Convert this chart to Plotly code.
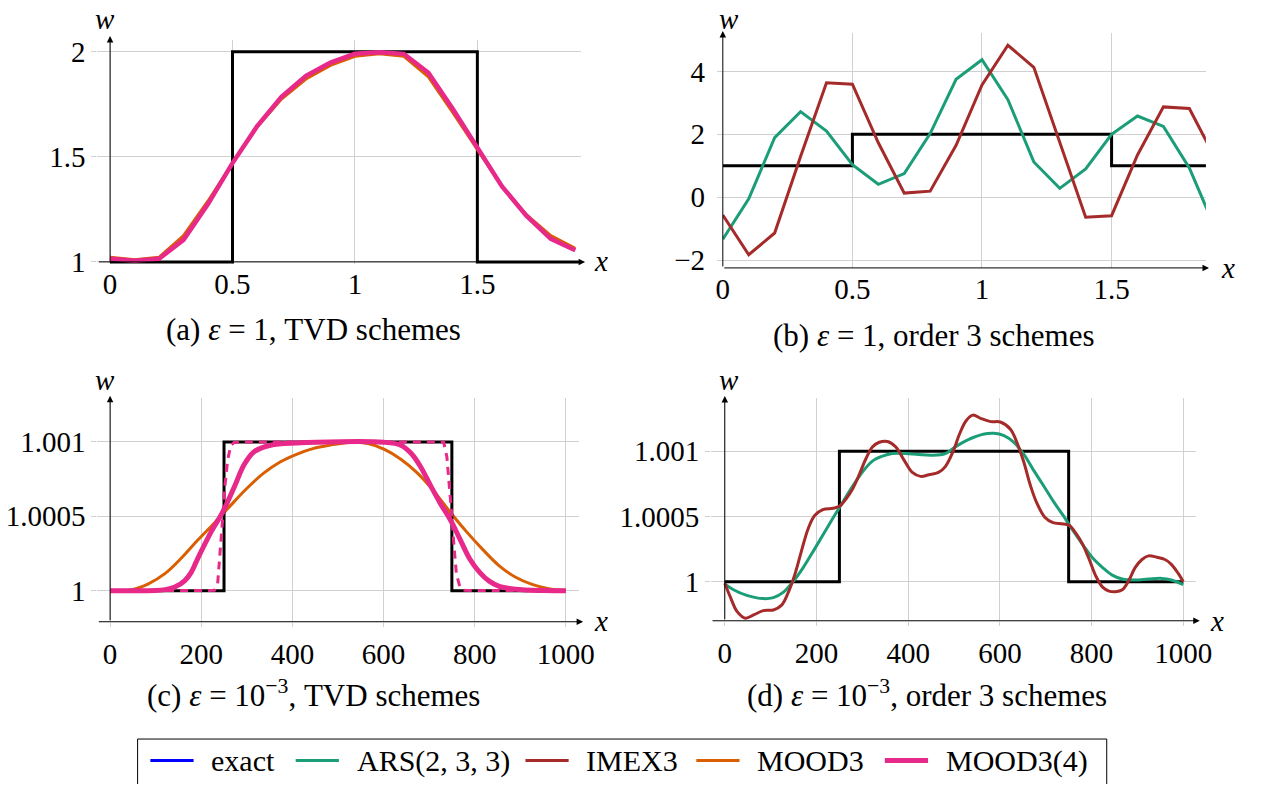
import plotly.graph_objects as go

W, H = 1272, 798
FONT = "Liberation Serif"
FS = 29
CAP_FS = 31

BLACK = "#000000"
BLUE = "#0000ff"
GREEN = "#1b9e77"
RED = "#a52a2a"
ORANGE = "#d95f02"
PINK = "#e7298a"
GRID = "#d0d0d0"

# ---------------- (a) eps = 1, TVD schemes ----------------
a_x = [0.0, 0.1, 0.2, 0.3, 0.4, 0.5, 0.6, 0.7, 0.8, 0.9,
       1.0, 1.1, 1.2, 1.3, 1.4, 1.5, 1.6, 1.7, 1.8, 1.9]
a_mood3 = [1.022, 1.010, 1.022, 1.125, 1.290, 1.470, 1.640, 1.775, 1.870, 1.935,
           1.978, 1.990, 1.978, 1.880, 1.710, 1.535, 1.360, 1.225, 1.125, 1.065]
a_mood34 = [1.015, 1.005, 1.015, 1.105, 1.275, 1.470, 1.645, 1.785, 1.885, 1.948,
            1.990, 1.998, 1.990, 1.900, 1.727, 1.540, 1.360, 1.220, 1.110, 1.055]
a_exact_x = [0.0, 0.5, 1.5, 1.925]
a_exact_y = [1, 2, 1, 1]

# ---------------- (b) eps = 1, order 3 schemes ----------------
b_x = a_x
b_ars = [-1.34, -0.05, 1.89, 2.72, 2.10, 1.03, 0.41, 0.75, 2.02, 3.75,
         4.37, 3.10, 1.12, 0.28, 0.90, 2.00, 2.58, 2.25, 0.93, -1.00]
b_imex = [-0.57, -1.83, -1.14, 1.29, 3.64, 3.59, 1.73, 0.13, 0.19, 1.65,
          3.57, 4.83, 4.13, 1.71, -0.64, -0.59, 1.34, 2.87, 2.82, 1.24]
b_exact_x = [0.0, 0.5, 1.5, 1.9]
b_exact_y = [1, 2, 1, 1]

# ---------------- (c) eps = 1e-3, TVD schemes ----------------
c_exact_x = [0, 250, 750, 1000]
c_exact_y = [1.0, 1.001, 1.0, 1.0]
c_mood3_x = [0, 48, 84, 121, 157, 193, 229, 265, 301, 337, 373, 409, 445, 482,
             530, 566, 602, 638, 674, 710, 746, 782, 818, 854, 890, 926, 962, 1000]
c_mood3_y = [1.0, 1.000007, 1.000046, 1.000116, 1.000221, 1.000342, 1.000455,
             1.000575, 1.00069, 1.00079, 1.000865, 1.000917, 1.000955, 1.000978,
             1.000998, 1.000989, 1.00095, 1.000884, 1.000792, 1.000671, 1.000529,
             1.000397, 1.000276, 1.000167, 1.00009, 1.000042, 1.000013, 1.000002]
c_mood34_x = [0, 100, 121, 142, 164, 178, 193, 222, 247, 272, 294, 316, 352, 409,
              600, 638, 660, 681, 703, 724, 746, 768, 789, 811, 832, 854, 890, 950, 1000]
c_mood34_y = [1.0, 1.000001, 1.000007, 1.000024, 1.000068, 1.000123, 1.000221,
              1.000397, 1.000528, 1.000693, 1.000846, 1.000934, 1.000978, 1.000993,
              1.000998, 1.000978, 1.000925, 1.000835, 1.000708, 1.00059, 1.00048,
              1.000345, 1.000215, 1.000123, 1.000064, 1.000029, 1.000009, 1.000001, 1.0]
c_mood34f_x = [0, 220, 229, 236, 242, 247, 252, 258, 265, 272, 290,
               732, 739, 745, 750, 755, 760, 768, 778, 1000]
c_mood34f_y = [1.0, 1.0, 1.000002, 1.000046, 1.000265, 1.000485, 1.000704,
               1.000879, 1.000978, 1.000996, 1.000999, 1.000999, 1.000901,
               1.000704, 1.0005, 1.000287, 1.000112, 1.00002, 1.000002, 1.0]

# ---------------- (d) eps = 1e-3, order 3 schemes ----------------
d_exact_x = c_exact_x
d_exact_y = c_exact_y
d_ars_x = [0, 19, 48, 84, 106, 128, 149, 171, 192, 214, 236, 257, 279, 301, 322,
           344, 365, 394, 423, 452, 481, 502, 530, 566, 587, 609, 630, 652, 673,
           695, 716, 738, 759, 781, 802, 824, 845, 867, 895, 924, 953, 974, 1000]
d_ars_y = [0.999983, 0.999938, 0.999895, 0.99987, 0.999878, 0.99992, 1.0,
           1.000108, 1.000228, 1.000358, 1.000488, 1.000608, 1.000733, 1.000845,
           1.000925, 1.000963, 1.000983, 1.000983, 1.000975, 1.00097, 1.000983,
           1.001033, 1.001088, 1.001133, 1.001138, 1.00112, 1.00107, 1.000978,
           1.000858, 1.000738, 1.00062, 1.000508, 1.000395, 1.000283, 1.000183,
           1.000108, 1.00005, 1.00002, 1.000013, 1.00002, 1.000025, 1.000013, 0.999978]
d_imex_x = [0, 12, 27, 45, 63, 84, 106, 124, 138, 153, 167, 182, 196, 214, 236,
            250, 265, 279, 293, 308, 322, 337, 355, 373, 391, 409, 427, 445, 466,
            481, 499, 512, 526, 541, 558, 580, 601, 623, 637, 652, 666, 680, 698,
            716, 734, 751, 766, 781, 795, 809, 824, 838, 852, 867, 881, 895, 910,
            924, 942, 960, 974, 989, 1000]
d_imex_y = [0.999988, 0.999883, 0.99977, 0.99972, 0.999745, 0.999778, 0.999783,
            0.99982, 0.999913, 1.000058, 1.000233, 1.000408, 1.000508, 1.000553,
            1.000563, 1.000578, 1.000638, 1.000713, 1.00082, 1.000945, 1.001033,
            1.00107, 1.001075, 1.001033, 1.000933, 1.000838, 1.000808, 1.00082,
            1.000838, 1.000883, 1.001008, 1.001133, 1.001233, 1.001278, 1.001253,
            1.001228, 1.001225, 1.00117, 1.00107, 1.00092, 1.000745, 1.000608,
            1.000495, 1.000453, 1.000445, 1.000433, 1.00037, 1.000283, 1.00017,
            1.000045, 0.999958, 0.999928, 0.999923, 0.999938, 1.000008, 1.000108,
            1.00017, 1.000198, 1.000188, 1.00017, 1.000133, 1.000063, 1.0]

# tick values and labels
ab_xticks = [0, 0.5, 1, 1.5]
ab_xlabels = ["0", "0.5", "1", "1.5"]
a_yticks = [1, 1.5, 2]
a_ylabels = ["1", "1.5", "2"]
b_yticks = [-2, 0, 2, 4]
b_ylabels = ["\u22122", "0", "2", "4"]
cd_xticks = [0, 200, 400, 600, 800, 1000]
cd_xlabels = ["0", "200", "400", "600", "800", "1000"]
cd_yticks = [1.0, 1.0005, 1.001]
cd_ylabels = ["1", "1.0005", "1.001"]

captions = [
    "(a) <i>\u03b5</i> = 1, TVD schemes",
    "(b) <i>\u03b5</i> = 1, order 3 schemes",
    "(c) <i>\u03b5</i> = 10<sup>\u22123</sup>, TVD schemes",
    "(d) <i>\u03b5</i> = 10<sup>\u22123</sup>, order 3 schemes",
]

# legend entries: label, colour, line width
legend_names = ["exact", "ARS(2, 3, 3)", "IMEX3", "MOOD3", "MOOD3(4)"]
legend_colors = [BLUE, GREEN, RED, ORANGE, PINK]
legend_widths = [3, 3, 3, 3, 5]


def px_x(p):
    return p / W


def px_y(p):
    return 1 - p / H


# panel geometry in page pixels, data ranges and axis-line positions
panels = {
    "a": dict(ax="x", ay="y", l=92, r=585, t=37, b=266,
              xr=[-0.052, 1.925], yr=[0.99, 2.055],
              xt=ab_xticks, xl=ab_xlabels, yt=a_yticks, yl=a_ylabels,
              yaxis_at=0.0, xaxis_at=1.0, xtip=1.94, ytip=2.075, xstart=-0.052,
              xstand=0, xtl=0, ystand=0,
              wpos=(100, 15), xpos=(605, 263), cap=(312, 333)),
    "b": dict(ax="x2", ay="y2", l=729, r=1221, t=30, b=270,
              xr=[0.0, 1.864], yr=[-2.25, 5.21],
              xt=ab_xticks, xl=ab_xlabels, yt=b_yticks, yl=b_ylabels,
              yaxis_at=0.0, xaxis_at=-2.25, xtip=1.876, ytip=5.28, xstart=0.0,
              xstand=1, xtl=0, ystand=6,
              wpos=(735, 15), xpos=(1243, 270), cap=(944, 339)),
    "c": dict(ax="x3", ay="y3", l=92, r=583, t=403, b=632,
              xr=[-28, 1030], yr=[0.999791, 1.001296],
              xt=cd_xticks, xl=cd_xlabels, yt=cd_yticks, yl=cd_ylabels,
              yaxis_at=0.0, xaxis_at=0.999791, xtip=1038, ytip=1.00131, xstart=-28,
              xstand=2, xtl=4, ystand=0,
              wpos=(100, 385), xpos=(605, 631), cap=(312, 705)),
    "d": dict(ax="x4", ay="y4", l=717, r=1211, t=403, b=631,
              xr=[-30, 1028], yr=[0.9997, 1.00141],
              xt=cd_xticks, xl=cd_xlabels, yt=cd_yticks, yl=cd_ylabels,
              yaxis_at=0.0, xaxis_at=0.9997, xtip=1036, ytip=1.001425, xstart=-30,
              xstand=2, xtl=4, ystand=0,
              wpos=(735, 385), xpos=(1232, 631), cap=(937, 705)),
}

fig = go.Figure()


def line(x, y, axis, color, width, shape="linear", dash="solid", name=None):
    fig.add_trace(go.Scatter(
        x=x, y=y, mode="lines", xaxis=axis[0], yaxis=axis[1], showlegend=False,
        name=name, line=dict(color=color, width=width, shape=shape, dash=dash,
                             smoothing=1.0 if shape == "spline" else None),
        hoverinfo="skip"))


pa = ("x", "y")
pb = ("x2", "y2")
pc = ("x3", "y3")
pd_ = ("x4", "y4")

# (a)
line(a_exact_x, a_exact_y, pa, BLACK, 3, shape="hv", name="exact")
line(a_x, a_mood3, pa, ORANGE, 3, name="MOOD3")
line(a_x, a_mood34, pa, PINK, 4.5, name="MOOD3(4)")
# (b)
line(b_exact_x, b_exact_y, pb, BLACK, 3, shape="hv", name="exact")
line(b_x, b_ars, pb, GREEN, 3, name="ARS(2, 3, 3)")
line(b_x, b_imex, pb, RED, 3, name="IMEX3")
# (c)
line(c_mood3_x, c_mood3_y, pc, ORANGE, 3, shape="spline", name="MOOD3")
line(c_exact_x, c_exact_y, pc, BLACK, 3, shape="hv", name="exact")
line(c_mood34_x, c_mood34_y, pc, PINK, 5, shape="spline", name="MOOD3(4)")
line(c_mood34f_x, c_mood34f_y, pc, PINK, 3, dash="8px,6px", name="MOOD3(4) dashed")
# (d)
line(d_exact_x, d_exact_y, pd_, BLACK, 3, shape="hv", name="exact")
line(d_ars_x, d_ars_y, pd_, GREEN, 3, shape="spline", name="ARS(2, 3, 3)")
line(d_imex_x, d_imex_y, pd_, RED, 3, shape="spline", name="IMEX3")

layout = dict(
    width=W, height=H, margin=dict(l=0, r=0, t=0, b=0),
    paper_bgcolor="white", plot_bgcolor="white",
    font=dict(family=FONT, size=FS, color="black"),
    showlegend=False,
)

annotations = []
shapes = []
for key, p in panels.items():
    xa = "xaxis" + p["ax"][1:]
    ya = "yaxis" + p["ay"][1:]
    layout[xa] = dict(domain=[px_x(p["l"]), px_x(p["r"])], range=p["xr"], anchor=p["ay"],
                      tickvals=p["xt"], ticktext=p["xl"], showgrid=True, gridcolor=GRID,
                      gridwidth=1, zeroline=False, showline=False,
                      ticks="outside" if p["xtl"] else "", ticklen=max(p["xtl"], 1),
                      tickcolor=GRID, tickfont=dict(size=FS),
                      ticklabelstandoff=p["xstand"], fixedrange=True)
    layout[ya] = dict(domain=[px_y(p["b"]), px_y(p["t"])], range=p["yr"], anchor=p["ax"],
                      tickvals=p["yt"], ticktext=p["yl"], showgrid=True, gridcolor=GRID,
                      gridwidth=1, zeroline=False, showline=False, ticks="outside",
                      ticklen=5, tickcolor=GRID, tickfont=dict(size=FS),
                      ticklabelstandoff=p["ystand"], fixedrange=True)
    # axis lines with arrow tips
    annotations.append(dict(xref=p["ax"], yref=p["ay"], axref=p["ax"], ayref=p["ay"],
                            x=p["xtip"], y=p["xaxis_at"], ax=p["xstart"], ay=p["xaxis_at"],
                            text="", showarrow=True, arrowhead=2, arrowsize=1.3,
                            arrowwidth=1, arrowcolor="black", standoff=0, startstandoff=0))
    annotations.append(dict(xref=p["ax"], yref=p["ay"], axref=p["ax"], ayref=p["ay"],
                            x=p["yaxis_at"], y=p["ytip"], ax=p["yaxis_at"], ay=p["yr"][0],
                            text="", showarrow=True, arrowhead=2, arrowsize=1.3,
                            arrowwidth=1, arrowcolor="black", standoff=0, startstandoff=0))
    annotations.append(dict(xref="paper", yref="paper", x=px_x(p["wpos"][0]),
                            y=px_y(p["wpos"][1]), text="<i>w</i>", showarrow=False,
                            font=dict(size=FS), xanchor="center", yanchor="middle"))
    annotations.append(dict(xref="paper", yref="paper", x=px_x(p["xpos"][0]),
                            y=px_y(p["xpos"][1]), text="<i>x</i>", showarrow=False,
                            font=dict(size=FS), xanchor="center", yanchor="middle"))

for cap, key in zip(captions, ["a", "b", "c", "d"]):
    cx, cy = panels[key]["cap"]
    annotations.append(dict(xref="paper", yref="paper", x=px_x(cx), y=px_y(cy),
                            text=cap, showarrow=False, font=dict(size=CAP_FS),
                            xanchor="center", yanchor="middle"))

# legend frame below the panels (open at the page's bottom edge)
LEG_L, LEG_R, LEG_T, LEG_B, LEG_Y = 133, 1120, 752, 798, 774
for x0, y0, x1, y1 in [(LEG_L, LEG_T, LEG_R, LEG_T), (LEG_L, LEG_T, LEG_L, LEG_B),
                       (LEG_R, LEG_T, LEG_R, LEG_B)]:
    shapes.append(dict(type="line", xref="paper", yref="paper",
                       x0=px_x(x0), x1=px_x(x1), y0=px_y(y0), y1=px_y(y1),
                       line=dict(color="black", width=1)))
leg_line_x = [146, 294, 528, 702, 894]
for lx, nm, col, wd in zip(leg_line_x, legend_names, legend_colors, legend_widths):
    shapes.append(dict(type="line", xref="paper", yref="paper",
                       x0=px_x(lx), x1=px_x(lx + 44), y0=px_y(LEG_Y), y1=px_y(LEG_Y),
                       line=dict(color=col, width=wd)))
    annotations.append(dict(xref="paper", yref="paper", x=px_x(lx + 60), y=px_y(LEG_Y),
                            text=nm, showarrow=False, font=dict(size=30),
                            xanchor="left", yanchor="middle"))

layout["annotations"] = annotations
layout["shapes"] = shapes
fig.update_layout(**layout)
fig.write_html("out.html")
